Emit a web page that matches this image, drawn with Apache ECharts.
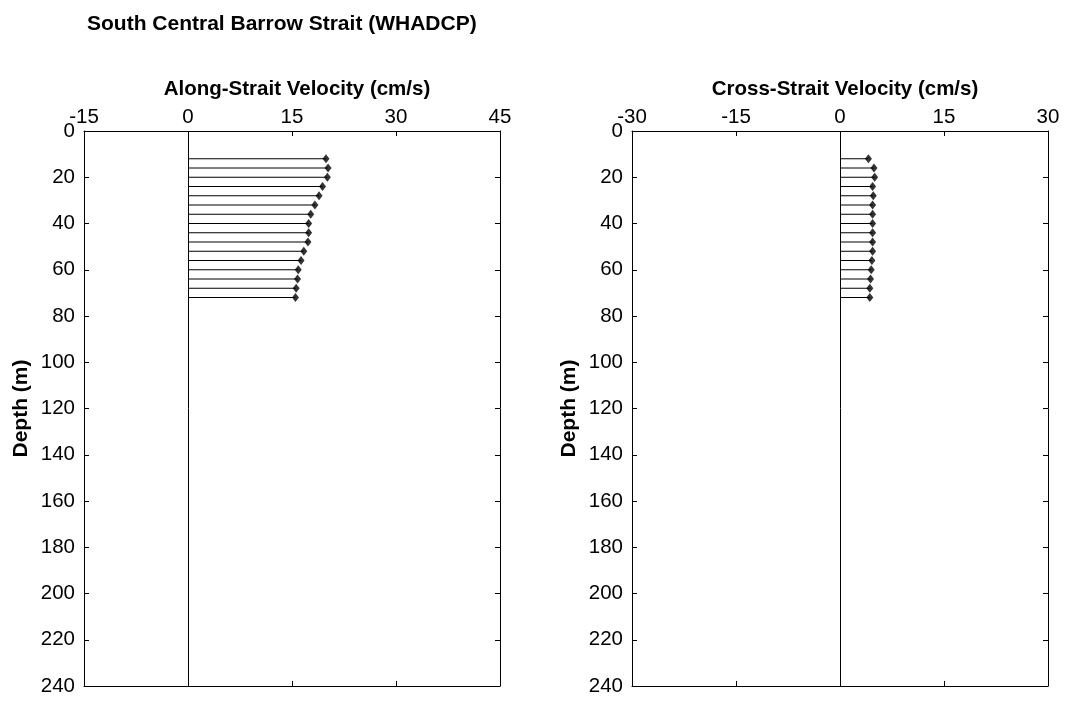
<!DOCTYPE html>
<html>
<head>
<meta charset="utf-8">
<script src="https://cdn.jsdelivr.net/npm/echarts@6/dist/echarts.min.js"></script>
<style>
	html, body { margin: 0; padding: 0; background: #fff; }
	#chart { width: 1068px; height: 702px; }
</style>
</head>
<body>
<div id="chart"></div>
<script>
// depth of each ADCP bin (m)
const depths = [12, 16, 20, 24, 28, 32, 36, 40, 44, 48, 52, 56, 60, 64, 68, 72];
// mean velocities (cm/s)
const alongVel = [19.9, 20.2, 20.1, 19.4, 18.9, 18.3, 17.7, 17.4, 17.4, 17.3, 16.7, 16.3, 15.9, 15.8, 15.6, 15.5];
const crossVel = [4.1, 4.9, 5.0, 4.7, 4.8, 4.7, 4.7, 4.7, 4.7, 4.7, 4.7, 4.6, 4.5, 4.4, 4.3, 4.3];
// axis ranges
const alongRange = [-15, 45];
const crossRange = [-30, 30];
const depthRange = [0, 240];

const font = "Liberation Sans";

const stemItem = (params, api) => {
	const start = api.coord([0, api.value(1)]);
	const end = api.coord([api.value(0), api.value(1)]);
	return {
		type: "line",
		shape: { x1: start[0], y1: start[1], x2: end[0], y2: end[1] },
		style: { stroke: "#000", lineWidth: 1 },
	};
};

const xAxisPair = (gridIndex, range) => {
	const base = {
		gridIndex: gridIndex,
		type: "value",
		min: range[0],
		max: range[1],
		interval: 15,
		splitLine: { show: false },
		axisLine: { onZero: false, lineStyle: { color: "#000", width: 1 } },
		axisTick: { inside: true, length: 5, lineStyle: { color: "#000" } },
	};
	return [
		Object.assign({}, base, {
			position: "top",
			axisLabel: { color: "#000", fontFamily: font, fontSize: 20.5, margin: 3 },
		}),
		Object.assign({}, base, { position: "bottom", axisLabel: { show: false } }),
	];
};

const yAxisPair = (gridIndex) => {
	const base = {
		gridIndex: gridIndex,
		type: "value",
		inverse: true,
		min: depthRange[0],
		max: depthRange[1],
		interval: 20,
		splitLine: { show: false },
		axisLine: { onZero: false, lineStyle: { color: "#000", width: 1 } },
		axisTick: { inside: true, length: 5, lineStyle: { color: "#000" } },
	};
	return [
		Object.assign({}, base, {
			position: "left",
			name: "Depth (m)",
			nameLocation: "middle",
			nameGap: 52,
			nameRotate: 90,
			nameTextStyle: { color: "#000", fontFamily: font, fontSize: 21, fontWeight: "bold" },
			axisLabel: { color: "#000", fontFamily: font, fontSize: 20.5, margin: 9 },
		}),
		Object.assign({}, base, { position: "right", axisLabel: { show: false } }),
	];
};

const profileSeries = (axisBase, values) => {
	const pts = values.map((v, i) => [v, depths[i]]);
	return [
		{
			type: "custom",
			xAxisIndex: axisBase,
			yAxisIndex: axisBase,
			renderItem: stemItem,
			encode: { x: 0, y: 1 },
			data: pts,
			silent: true,
			z: 2,
		},
		{
			type: "scatter",
			xAxisIndex: axisBase,
			yAxisIndex: axisBase,
			symbol: "diamond",
			symbolSize: [7, 9],
			itemStyle: { color: "#000" },
			data: pts,
			z: 3,
			markLine: {
				silent: true,
				symbol: "none",
				label: { show: false },
				lineStyle: { color: "#000", width: 1, type: "solid" },
				data: [{ xAxis: 0 }],
			},
		},
	];
};

let myChart = echarts.init(document.getElementById("chart"));
let option = {
	backgroundColor: "#fff",
	animation: false,
	title: [
		{
			text: "South Central Barrow Strait (WHADCP)",
			left: 82,
			top: 9,
			textStyle: { fontFamily: font, fontSize: 21, fontWeight: "bold", color: "#000" },
		},
		{
			text: "Along-Strait Velocity (cm/s)",
			left: 292,
			top: 74,
			textAlign: "center",
			textStyle: { fontFamily: font, fontSize: 20.5, fontWeight: "bold", color: "#000" },
		},
		{
			text: "Cross-Strait Velocity (cm/s)",
			left: 840,
			top: 74,
			textAlign: "center",
			textStyle: { fontFamily: font, fontSize: 20.5, fontWeight: "bold", color: "#000" },
		},
	],
	grid: [
		{ left: 84, top: 131, width: 416, height: 555 },
		{ left: 632, top: 131, width: 416, height: 555 },
	],
	xAxis: [...xAxisPair(0, alongRange), ...xAxisPair(1, crossRange)],
	yAxis: [...yAxisPair(0), ...yAxisPair(1)],
	series: [...profileSeries(0, alongVel), ...profileSeries(2, crossVel)],
};
myChart.setOption(option);
</script>
</body>
</html>
